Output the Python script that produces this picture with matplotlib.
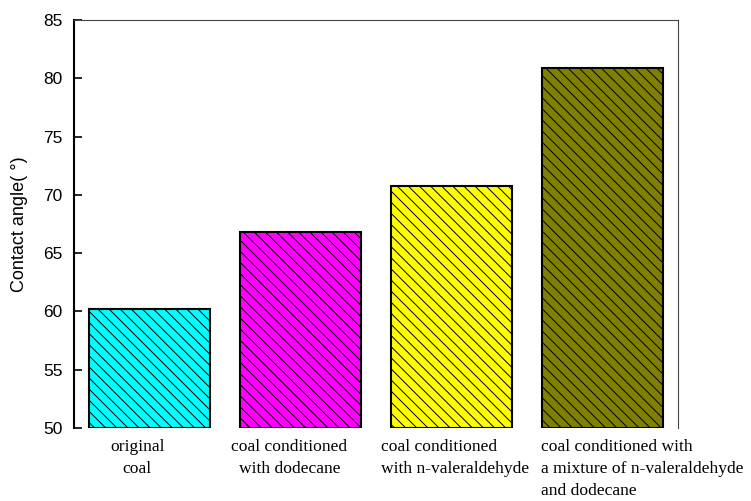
import matplotlib
matplotlib.use('Agg')
import matplotlib.pyplot as plt
from matplotlib.transforms import blended_transform_factory

# contact angle of coal samples (degrees)
labels = ['original\ncoal',
          'coal conditioned\nwith dodecane',
          'coal conditioned\nwith n-valeraldehyde',
          'coal conditioned with\na mixture of n-valeraldehyde\nand dodecane']
angles = [60.2, 66.8, 70.8, 80.9]
colors = ['#00FFFF', '#FF00FF', '#FFFF00', '#808000']

plt.rcParams['hatch.linewidth'] = 0.7

fig = plt.figure(figsize=(7.51, 5.01), dpi=100)
ax = fig.add_axes([0.0985, 0.1457, 0.8043, 0.8143])

x = range(len(angles))
ax.bar(x, [a - 50 for a in angles], bottom=50, width=0.8, color=colors,
       edgecolor='black', linewidth=1.5, hatch='\\\\\\')

ax.set_xlim(-0.5, 3.5)
ax.set_ylim(50, 85)
ax.set_yticks(range(50, 86, 5))
ax.set_xticks([])
ax.tick_params(axis='y', direction='in', length=6, width=1.2,
               labelsize=12.5, pad=8)
for t in ax.get_yticklabels():
    t.set_fontfamily('Liberation Sans')
ax.set_ylabel('Contact angle( °)', fontsize=13, family='Liberation Sans',
              labelpad=11)

ax.spines['bottom'].set_visible(False)
ax.spines['left'].set_linewidth(1.5)
ax.spines['top'].set_color('#444444')
ax.spines['right'].set_color('#444444')

# category labels below the bars, placed individually
trans = blended_transform_factory(ax.transData, ax.transAxes)
label_x = [-0.08, 0.927, 1.53, 2.596]
label_ha = ['center', 'center', 'left', 'left']
for xi, lab, ha in zip(label_x, labels, label_ha):
    ax.text(xi, -0.028, lab, transform=trans, ha=ha, va='top',
            fontsize=12.6, family='Liberation Serif', linespacing=1.5,
            multialignment='center' if ha == 'center' else 'left')

fig.savefig('out.png', dpi=100)
